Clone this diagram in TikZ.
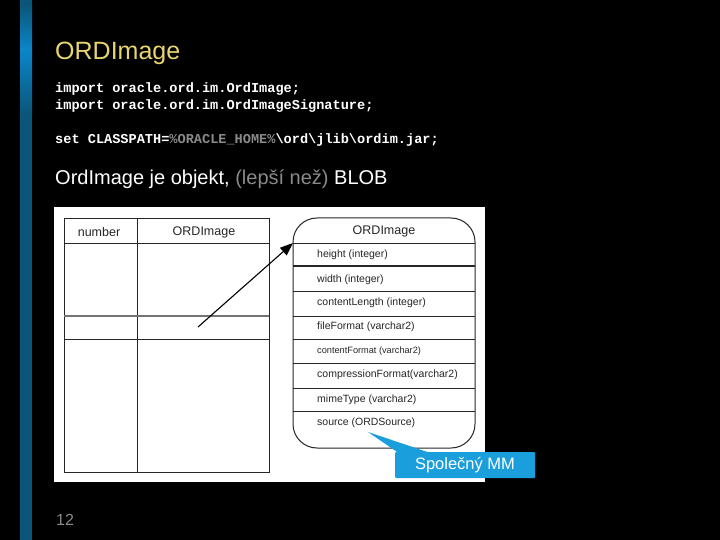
\documentclass[tikz,border=0pt]{standalone}
\usepackage{fontspec}
\setmainfont{Liberation Sans}
\setmonofont{Liberation Mono}
\usetikzlibrary{arrows.meta, calc, positioning}
\definecolor{sbar}{HTML}{0A5578}
\definecolor{sbarhi}{HTML}{0B86C8}
\definecolor{stitle}{HTML}{E8D66E}
\definecolor{sgrey}{HTML}{8A8A8A}
\definecolor{callblue}{HTML}{1B9FDC}
\tikzset{
  % text na slajdu
  slidetxt/.style={anchor=base west, text=white, inner sep=0pt,
    font=\fontsize{20}{24}\selectfont},
  codetxt/.style={anchor=base west, text=white, inner sep=0pt,
    font=\ttfamily\bfseries\fontsize{13.6}{16}\selectfont},
  % čáry tabulky
  tabline/.style={draw=black!85, line width=0.7pt},
  % záhlaví sloupců a pole objektu
  colhead/.style={inner sep=0pt, text=black!85, font=\fontsize{12.5}{14}\selectfont},
  fld/.style={anchor=west, inner sep=0pt, text=black!85, font=\fontsize{10.5}{12}\selectfont},
  % bublina s popiskem
  calloutbox/.style={fill=callblue, text=white, minimum width=140pt, minimum height=26pt,
    inner sep=0pt, rounded corners=1pt, font=\fontsize{16.5}{18}\selectfont},
}
\begin{document}
\begin{tikzpicture}[x=1pt,y=-1pt]
  \fill[black] (0,0) rectangle (720,540);
  \useasboundingbox (0,0) rectangle (720,540);
  % modrý pruh vlevo
  \fill[sbar] (20,0) rectangle (32,540);
  \shade[top color=sbar, bottom color=sbarhi] (20,4) rectangle (32,50);
  \shade[top color=sbarhi, bottom color=sbar] (20,50) rectangle (32,115);
  % nadpis a kód
  \node[slidetxt, text=stitle, font=\fontsize{25}{30}\selectfont] (title) at (55,60) {ORDImage};
  \node[codetxt] (imp1) at (55,93) {import oracle.ord.im.OrdImage;};
  \node[codetxt] (imp2) at (55,110) {import oracle.ord.im.OrdImageSignature;};
  \node[codetxt] (cpath) at (55,144) {set CLASSPATH=\textcolor{sgrey}{\%ORACLE\_HOME\%}\textbackslash ord\textbackslash jlib\textbackslash ordim.jar;};
  \node[slidetxt] (blob) at (55,185) {OrdImage je objekt, \textcolor{sgrey}{(lepší než)} BLOB};
  % bílý podklad obrázku
  \fill[white] (54,207) rectangle (485,482);
  % tabulka
  \draw[tabline] (64,218) rectangle (269,472);
  \draw[tabline] (137,218) -- (137,472);
  \draw[tabline] (64,243) -- (269,243);
  \draw[draw=black!55, line width=1.2pt] (64,316) -- (269,316);
  \draw[tabline] (64,339) -- (269,339);
  \node[colhead] (tnum) at (99,232) {number};
  \node[colhead] (tord) at (204,232) {ORDImage};
  % objekt ORDImage
  \draw[tabline, line width=1pt, rounded corners=24pt] (293,218) rectangle (475,448);
  \node[colhead] (ohead) at (384,231) {ORDImage};
  \foreach \y in {243,291,316,339,363,388,411}
    \draw[tabline] (293,\y) -- (475,\y);
  \draw[tabline, line width=1.6pt] (293,266) -- (475,266);
  \foreach \y/\t [count=\i] in {255/height (integer), 280/width (integer),
      303/contentLength (integer), 327/fileFormat (varchar2),
      375/compressionFormat(varchar2), 400/mimeType (varchar2), 423/source (ORDSource)}
    \node[fld] (f\i) at (317,\y) {\t};
  \node[fld, font=\fontsize{9.2}{11}\selectfont] (fcf) at (317,351) {contentFormat (varchar2)};
  % šipka z buňky na objekt
  \coordinate (cell) at (198,327);
  \coordinate (hdrow) at (293,243);
  \draw[-{Triangle[length=13pt,width=10pt]}, line width=1.1pt] (cell) -- (hdrow);
  % popisek
  \node[calloutbox] (mm) at (465,465) {Společný MM};
  \coordinate (tip) at (368,432);
  \fill[callblue] (tip) -- ([xshift=2pt]mm.north west) -- ([xshift=32pt]mm.north west) -- cycle;
  % číslo slajdu
  \node[slidetxt, text=sgrey, font=\fontsize{16}{18}\selectfont] (pnum) at (56,525) {12};
\end{tikzpicture}
\end{document}
